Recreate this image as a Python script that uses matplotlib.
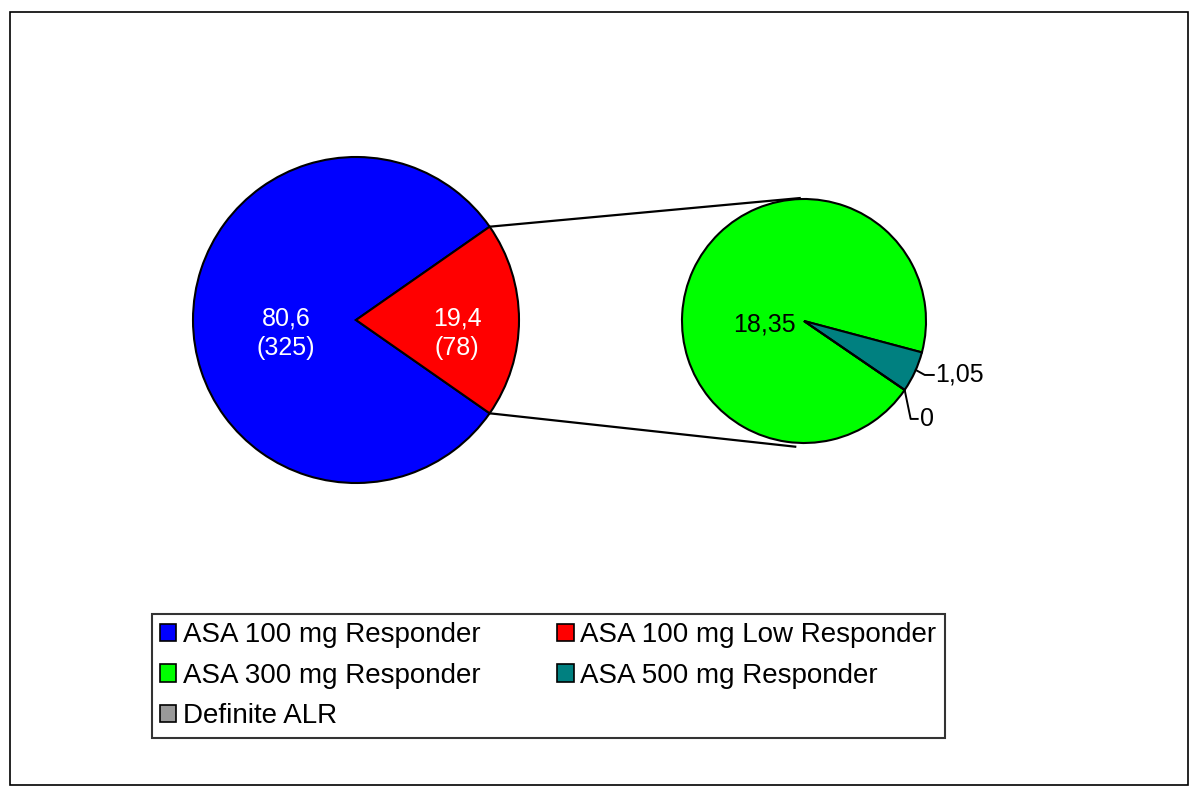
import numpy as np
import matplotlib.pyplot as plt
from matplotlib.patches import Rectangle

plt.rcParams['font.family'] = ['Liberation Sans', 'DejaVu Sans']

# data
main_labels = ['ASA 100 mg Responder', 'ASA 100 mg Low Responder']
main_values = [80.6, 19.4]
main_counts = [325, 78]
main_colors = ['#0000FF', '#FF0000']

sub_labels = ['ASA 300 mg Responder', 'ASA 500 mg Responder', 'Definite ALR']
sub_values = [18.35, 1.05, 0]
sub_colors = ['#00FF00', '#008080', '#999999']

W, H = 1200, 797
fig = plt.figure(figsize=(W / 100, H / 100), dpi=100)
ax = fig.add_axes([0, 0, 1, 1])

# outer frame
ax.add_patch(Rectangle((10, 12), 1178, 773, fill=False, ec='black', lw=1.2))

# big pie, red slice centred on the right
c1, r1 = (356, 477), 163
red_span = main_values[1] / sum(main_values) * 360
w1, _ = ax.pie(main_values, colors=main_colors, center=c1, radius=r1,
               startangle=red_span / 2, counterclock=True,
               wedgeprops=dict(edgecolor='black', linewidth=1.5), frame=True)

# small pie
c2, r2 = (804, 476), 122
start2 = -34.4
w2, _ = ax.pie(sub_values, colors=sub_colors, center=c2, radius=r2,
               startangle=start2, counterclock=False,
               wedgeprops=dict(edgecolor='black', linewidth=1.5), frame=True)
ax.set_xlim(0, W)
ax.set_ylim(0, H)
ax.axis('off')


def pt(c, r, ang):
    a = np.deg2rad(ang)
    return c[0] + r * np.cos(a), c[1] + r * np.sin(a)


# connector lines
p_top = pt(c1, r1, red_span / 2)
p_bot = pt(c1, r1, -red_span / 2)
q_top = pt(c2, r2 + 1, 92)
q_bot = pt(c2, r2 + 4, 266)
ax.plot([p_top[0], q_top[0]], [p_top[1], q_top[1]], color='black', lw=1.6)
ax.plot([p_bot[0], q_bot[0]], [p_bot[1], q_bot[1]], color='black', lw=1.6)

# labels for big pie
for w, v, n, f in zip(w1, main_values, main_counts, [0.43, 0.62]):
    mid = (w.theta1 + w.theta2) / 2
    x, y = pt(c1, r1 * f, mid)
    ax.text(x, y - 13, f"{str(v).replace('.', ',')}\n({n})", color='white',
            fontsize=18, ha='center', va='center', linespacing=1.3)

# labels for small pie
ax.text(c2[0] - 8, c2[1] - 3, str(sub_values[0]).replace('.', ','),
        fontsize=18, ha='right', va='center')

teal = w2[1]
mid = (teal.theta1 + teal.theta2) / 2
x0, y0 = pt(c2, r2, mid + 1)
ax.plot([x0, x0 + 9, x0 + 18], [y0, y0 - 5, y0 - 5], color='black', lw=1.4)
ax.text(x0 + 19, y0 - 5, str(sub_values[1]).replace('.', ','), fontsize=18,
        ha='left', va='center')

x1, y1 = pt(c2, r2, start2)
ax.plot([x1, x1 + 6, x1 + 13], [y1, y1 - 29, y1 - 29], color='black', lw=1.4)
ax.text(x1 + 15, y1 - 29, str(sub_values[2]), fontsize=18, ha='left', va='center')

# legend, filled row by row
handles = [Rectangle((0, 0), 1, 1, fc=c, ec='black', lw=1.2)
           for c in main_colors + sub_colors]
names = main_labels + sub_labels
order = [0, 2, 4, 1, 3]
leg = fig.legend([handles[i] for i in order], [names[i] for i in order],
                 ncol=2, loc='upper left',
                 bbox_to_anchor=(152 / W, 1 - 614 / H),
                 fontsize=20, frameon=True, fancybox=False,
                 edgecolor='black', handlelength=0.58, handleheight=0.58,
                 handletextpad=0.25, labelspacing=0.52, borderpad=0.3,
                 columnspacing=2.75, borderaxespad=0)
leg.get_frame().set_linewidth(1.5)

fig.savefig('out.png', dpi=100)
